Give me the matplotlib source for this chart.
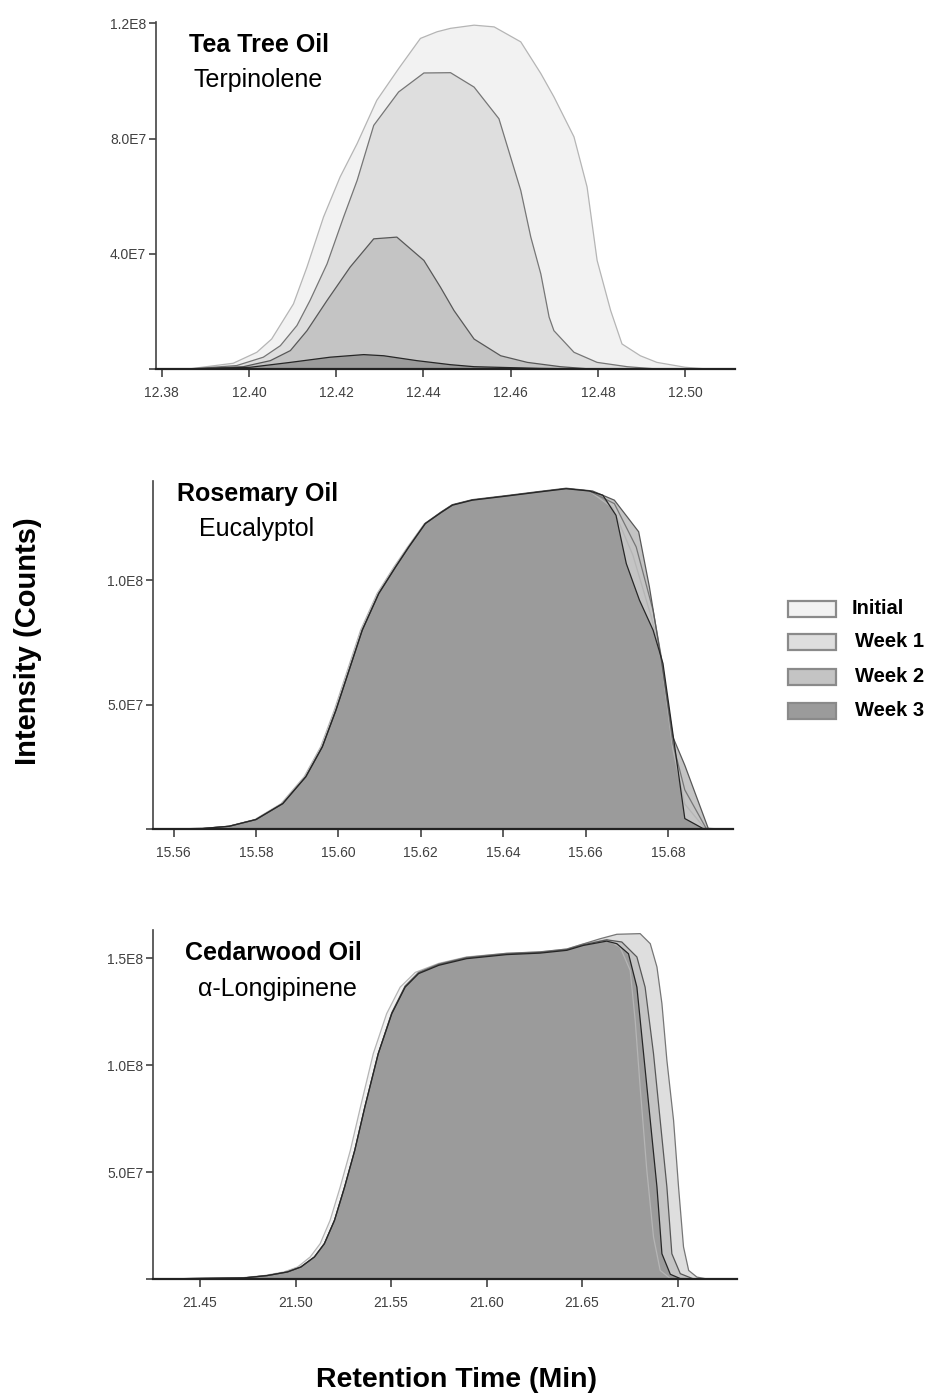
import matplotlib
matplotlib.use("Agg")
import matplotlib.pyplot as plt
from matplotlib.patches import Rectangle

# sample labels and grey shades for the four storage time points
series = ["Initial", "Week 1", "Week 2", "Week 3"]
fill_colors = ["#f2f2f2", "#dedede", "#c4c4c4", "#9b9b9b"]
edge_colors = ["#b5b5b5", "#767676", "#585858", "#262626"]

# ---- Tea Tree Oil / Terpinolene (intensity in units of 1E7 counts) ----
tt_initial_x = [12.3787, 12.3861, 12.3964, 12.4018, 12.4052, 12.4102, 12.4133, 12.4171, 12.4209,
                12.4248, 12.4293, 12.4343, 12.4393, 12.4431, 12.4462, 12.4516, 12.4562, 12.4623,
                12.4669, 12.4699, 12.4745, 12.4775, 12.4798, 12.4829, 12.4855, 12.4897, 12.4935,
                12.5000, 12.5050, 12.5114]
tt_initial_y = [0, 0, 0.20, 0.58, 1.04, 2.26, 3.54, 5.28, 6.67, 7.83, 9.33, 10.43, 11.48, 11.71,
                11.83, 11.94, 11.88, 11.36, 10.26, 9.45, 8.06, 6.32, 3.77, 2.03, 0.87, 0.46, 0.23,
                0.06, 0, 0]
tt_week1_x = [12.3787, 12.3861, 12.3972, 12.4033, 12.4072, 12.4110, 12.4140, 12.4179, 12.4217,
              12.4248, 12.4286, 12.4343, 12.4401, 12.4462, 12.4516, 12.4573, 12.4623, 12.4646,
              12.4669, 12.4688, 12.4699, 12.4745, 12.4798, 12.4867, 12.4935, 12.5114]
tt_week1_y = [0, 0, 0.12, 0.41, 0.81, 1.51, 2.38, 3.65, 5.28, 6.55, 8.46, 9.62, 10.28, 10.29,
              9.79, 8.69, 6.20, 4.58, 3.30, 1.80, 1.33, 0.58, 0.23, 0.08, 0, 0]
tt_week2_x = [12.3787, 12.3861, 12.3987, 12.4049, 12.4095, 12.4133, 12.4179, 12.4232, 12.4286,
              12.4339, 12.4401, 12.4439, 12.4470, 12.4516, 12.4577, 12.4638, 12.4714, 12.4783,
              12.5114]
tt_week2_y = [0, 0, 0.08, 0.29, 0.64, 1.33, 2.38, 3.54, 4.52, 4.58, 3.77, 2.84, 2.03, 1.04, 0.46,
              0.23, 0.08, 0, 0]
tt_week3_x = [12.3787, 12.3861, 12.4003, 12.4095, 12.4186, 12.4263, 12.4309, 12.4385, 12.4462,
              12.4516, 12.4669, 12.4783, 12.5114]
tt_week3_y = [0, 0, 0.06, 0.23, 0.41, 0.50, 0.46, 0.29, 0.15, 0.08, 0.02, 0, 0]

# ---- Rosemary Oil / Eucalyptol ----
rm_initial_x = [15.5550, 15.5668, 15.5732, 15.5797, 15.5861, 15.5917, 15.5957, 15.5990, 15.6022,
                15.6054, 15.6094, 15.6135, 15.6168, 15.6209, 15.6248, 15.6275, 15.6325, 15.6406,
                15.6488, 15.6553, 15.6609, 15.6666, 15.6715, 15.6760, 15.6784, 15.6812, 15.6841,
                15.6890, 15.6958]
rm_initial_y = [0, 0.02, 0.11, 0.38, 1.02, 2.10, 3.30, 4.77, 6.38, 7.99, 9.46, 10.53, 11.33, 12.27,
                12.72, 13.01, 13.21, 13.37, 13.54, 13.67, 13.58, 12.90, 11.00, 8.50, 6.80, 3.20,
                1.00, 0.02, 0]
rm_week1_x = [15.5550, 15.5671, 15.5735, 15.5800, 15.5865, 15.5921, 15.5961, 15.5994, 15.6026,
              15.6058, 15.6098, 15.6139, 15.6171, 15.6211, 15.6250, 15.6277, 15.6325, 15.6406,
              15.6488, 15.6553, 15.6609, 15.6670, 15.6723, 15.6764, 15.6784, 15.6812, 15.6841,
              15.6893, 15.6958]
rm_week1_y = [0, 0.02, 0.11, 0.38, 1.02, 2.10, 3.30, 4.77, 6.38, 7.99, 9.46, 10.53, 11.33, 12.27,
              12.72, 13.01, 13.21, 13.37, 13.54, 13.67, 13.58, 13.07, 11.33, 8.78, 6.91, 3.44,
              1.57, 0.02, 0]
rm_week2_x = [15.5550, 15.5671, 15.5735, 15.5800, 15.5865, 15.5921, 15.5961, 15.5994, 15.6026,
              15.6058, 15.6098, 15.6139, 15.6171, 15.6211, 15.6250, 15.6277, 15.6325, 15.6406,
              15.6488, 15.6553, 15.6617, 15.6670, 15.6729, 15.6755, 15.6784, 15.6812, 15.6841,
              15.6898, 15.6958]
rm_week2_y = [0, 0.02, 0.11, 0.38, 1.02, 2.10, 3.30, 4.77, 6.38, 7.99, 9.46, 10.53, 11.33, 12.27,
              12.74, 13.03, 13.23, 13.39, 13.56, 13.69, 13.58, 13.21, 11.94, 9.73, 6.78, 3.70,
              2.56, 0.02, 0]
rm_week3_x = [15.5550, 15.5671, 15.5735, 15.5800, 15.5865, 15.5921, 15.5961, 15.5994, 15.6026,
              15.6058, 15.6098, 15.6139, 15.6171, 15.6211, 15.6250, 15.6277, 15.6325, 15.6406,
              15.6488, 15.6553, 15.6609, 15.6642, 15.6674, 15.6699, 15.6731, 15.6764, 15.6788,
              15.6812, 15.6841, 15.6885, 15.6958]
rm_week3_y = [0, 0.02, 0.11, 0.38, 1.02, 2.10, 3.30, 4.77, 6.38, 7.99, 9.46, 10.53, 11.33, 12.27,
              12.72, 13.01, 13.21, 13.37, 13.54, 13.67, 13.58, 13.41, 12.60, 10.66, 9.19, 7.99,
              6.65, 3.84, 0.42, 0.02, 0]

# ---- Cedarwood Oil / alpha-Longipinene ----
cw_initial_x = [21.4254, 21.4711, 21.4835, 21.4940, 21.5011, 21.5077, 21.5129, 21.5181, 21.5234,
                21.5287, 21.5340, 21.5407, 21.5477, 21.5548, 21.5627, 21.5750, 21.5895, 21.6105,
                21.6280, 21.6420, 21.6507, 21.6629, 21.6699, 21.6752, 21.6778, 21.6804, 21.6839,
                21.6874, 21.6909, 21.6962, 21.7311]
cw_initial_y = [0, 0.05, 0.16, 0.33, 0.56, 1.03, 1.65, 2.74, 4.30, 6.01, 8.04, 10.53, 12.40, 13.64,
                14.33, 14.75, 15.05, 15.22, 15.28, 15.42, 15.66, 15.86, 15.51, 14.42, 12.09, 8.97,
                5.07, 1.96, 0.40, 0.02, 0]
cw_week1_x = [21.4254, 21.4729, 21.4852, 21.4958, 21.5028, 21.5099, 21.5151, 21.5204, 21.5257,
              21.5310, 21.5363, 21.5433, 21.5504, 21.5574, 21.5644, 21.5750, 21.5895, 21.6105,
              21.6280, 21.6420, 21.6507, 21.6594, 21.6682, 21.6804, 21.6857, 21.6892, 21.6918,
              21.6944, 21.6979, 21.7005, 21.7031, 21.7058, 21.7101, 21.7154, 21.7311]
cw_week1_y = [0, 0.05, 0.16, 0.33, 0.56, 1.03, 1.65, 2.74, 4.30, 6.01, 8.04, 10.53, 12.45, 13.70,
              14.33, 14.72, 15.03, 15.22, 15.29, 15.42, 15.66, 15.90, 16.11, 16.14, 15.67, 14.58,
              12.87, 10.22, 7.41, 4.30, 1.50, 0.40, 0.09, 0, 0]
cw_week2_x = [21.4254, 21.4729, 21.4852, 21.4958, 21.5028, 21.5099, 21.5151, 21.5204, 21.5257,
              21.5310, 21.5363, 21.5433, 21.5504, 21.5574, 21.5644, 21.5750, 21.5895, 21.6105,
              21.6280, 21.6420, 21.6507, 21.6629, 21.6708, 21.6787, 21.6830, 21.6874, 21.6909,
              21.6944, 21.6970, 21.7014, 21.7084, 21.7311]
cw_week2_y = [0, 0.05, 0.16, 0.33, 0.56, 1.03, 1.65, 2.74, 4.30, 6.01, 8.04, 10.53, 12.42, 13.67,
              14.30, 14.69, 15.00, 15.19, 15.26, 15.39, 15.62, 15.85, 15.75, 15.05, 13.64, 10.53,
              7.41, 4.30, 1.18, 0.25, 0, 0]
cw_week3_x = [21.4254, 21.4729, 21.4852, 21.4958, 21.5028, 21.5099, 21.5151, 21.5204, 21.5257,
              21.5310, 21.5363, 21.5433, 21.5504, 21.5574, 21.5644, 21.5750, 21.5895, 21.6105,
              21.6280, 21.6420, 21.6507, 21.6629, 21.6682, 21.6743, 21.6787, 21.6822, 21.6857,
              21.6892, 21.6918, 21.6962, 21.7014, 21.7311]
cw_week3_y = [0, 0.05, 0.16, 0.33, 0.56, 1.03, 1.65, 2.74, 4.30, 6.01, 8.04, 10.53, 12.40, 13.64,
              14.27, 14.66, 14.97, 15.16, 15.23, 15.36, 15.59, 15.79, 15.67, 15.20, 13.64, 10.53,
              7.41, 4.30, 1.18, 0.22, 0.02, 0]

tt_xticks = [12.38, 12.40, 12.42, 12.44, 12.46, 12.48, 12.50]
tt_yticks = [0, 4e7, 8e7, 1.2e8]
tt_yticklabels = ["", "4.0E7", "8.0E7", "1.2E8"]
rm_xticks = [15.56, 15.58, 15.60, 15.62, 15.64, 15.66, 15.68]
rm_yticks = [0, 5e7, 1e8]
rm_yticklabels = ["", "5.0E7", "1.0E8"]
cw_xticks = [21.45, 21.50, 21.55, 21.60, 21.65, 21.70]
cw_yticks = [0, 5e7, 1e8, 1.5e8]
cw_yticklabels = ["", "5.0E7", "1.0E8", "1.5E8"]

W, H = 928, 1393
plt.rcParams["font.family"] = ["Liberation Sans", "DejaVu Sans"]
fig = plt.figure(figsize=(W / 100, H / 100), dpi=100)


def fx(x):
    return x / W


def fy(y):
    return 1 - y / H


def draw_panel(box, xs, ys, xlim, ylim, xticks, yticks, yticklabels,
               oil, compound, oil_pos, compound_pos):
    left, top, right, bottom = box
    ax = fig.add_axes([fx(left), fy(bottom), (right - left) / W, (bottom - top) / H])
    for x, y, fc in zip(xs, ys, fill_colors):
        ax.fill_between(x, [v * 1e7 for v in y], 0, facecolor=fc, edgecolor="none", lw=0)
    for x, y, ec in zip(xs, ys, edge_colors):
        ax.plot(x, [v * 1e7 for v in y], color=ec, lw=0.9)
    ax.set_xlim(*xlim)
    ax.set_ylim(*ylim)
    ax.set_xticks(xticks)
    ax.set_xticklabels(["%.2f" % t for t in xticks])
    ax.set_yticks(yticks)
    ax.set_yticklabels(yticklabels)
    for side in ("top", "right"):
        ax.spines[side].set_visible(False)
    ax.spines["left"].set_color("#444444")
    ax.spines["left"].set_linewidth(1.2)
    ax.spines["bottom"].set_color("#222222")
    ax.spines["bottom"].set_linewidth(1.6)
    ax.tick_params(axis="x", length=6, width=1.1, color="#333333", pad=6,
                   labelsize=10, labelcolor="#404040")
    ax.tick_params(axis="y", length=5, width=1.1, color="#333333", pad=2,
                   labelsize=10, labelcolor="#404040")
    ax.patch.set_alpha(0)
    fig.text(fx(oil_pos[0]), fy(oil_pos[1]), oil, ha="center", va="center",
             fontsize=18, fontweight="bold")
    fig.text(fx(compound_pos[0]), fy(compound_pos[1]), compound, ha="center", va="center",
             fontsize=18)
    return ax


draw_panel((156, 22, 735, 369),
           [tt_initial_x, tt_week1_x, tt_week2_x, tt_week3_x],
           [tt_initial_y, tt_week1_y, tt_week2_y, tt_week3_y],
           (12.3787, 12.5114), (0, 1.205e8), tt_xticks, tt_yticks, tt_yticklabels,
           "Tea Tree Oil", "Terpinolene", (259, 45), (258, 80))

draw_panel((153, 481, 733, 829),
           [rm_initial_x, rm_week1_x, rm_week2_x, rm_week3_x],
           [rm_initial_y, rm_week1_y, rm_week2_y, rm_week3_y],
           (15.5550, 15.6958), (0, 1.398e8), rm_xticks, rm_yticks, rm_yticklabels,
           "Rosemary Oil", "Eucalyptol", (258, 494), (257, 529))

draw_panel((153, 930, 737, 1279),
           [cw_initial_x, cw_week1_x, cw_week2_x, cw_week3_x],
           [cw_initial_y, cw_week1_y, cw_week2_y, cw_week3_y],
           (21.4254, 21.7311), (0, 1.631e8), cw_xticks, cw_yticks, cw_yticklabels,
           "Cedarwood Oil", "\u03b1-Longipinene", (273, 953), (277, 989))

# legend drawn as boxes plus labels on the right
legend_rows = [609, 642, 677, 711]
legend_text_x = [852, 855, 855, 855]
for name, fc, ty, tx in zip(series, fill_colors, legend_rows, legend_text_x):
    fig.patches.append(Rectangle((fx(788), fy(ty + 8)), 48 / W, 16 / H, transform=fig.transFigure,
                                 facecolor=fc, edgecolor="#8a8a8a", lw=1.6))
    fig.text(fx(tx), fy(ty), name, ha="left", va="center", fontsize=14.5, fontweight="bold")

fig.text(fx(28), fy(641), "Intensity (Counts)", rotation=90, ha="center", va="center",
         fontsize=21, fontweight="bold")
fig.text(fx(457), fy(1380), "Retention Time (Min)", ha="center", va="center",
         fontsize=20.5, fontweight="bold")

fig.savefig("out.png", dpi=100, facecolor="white")
